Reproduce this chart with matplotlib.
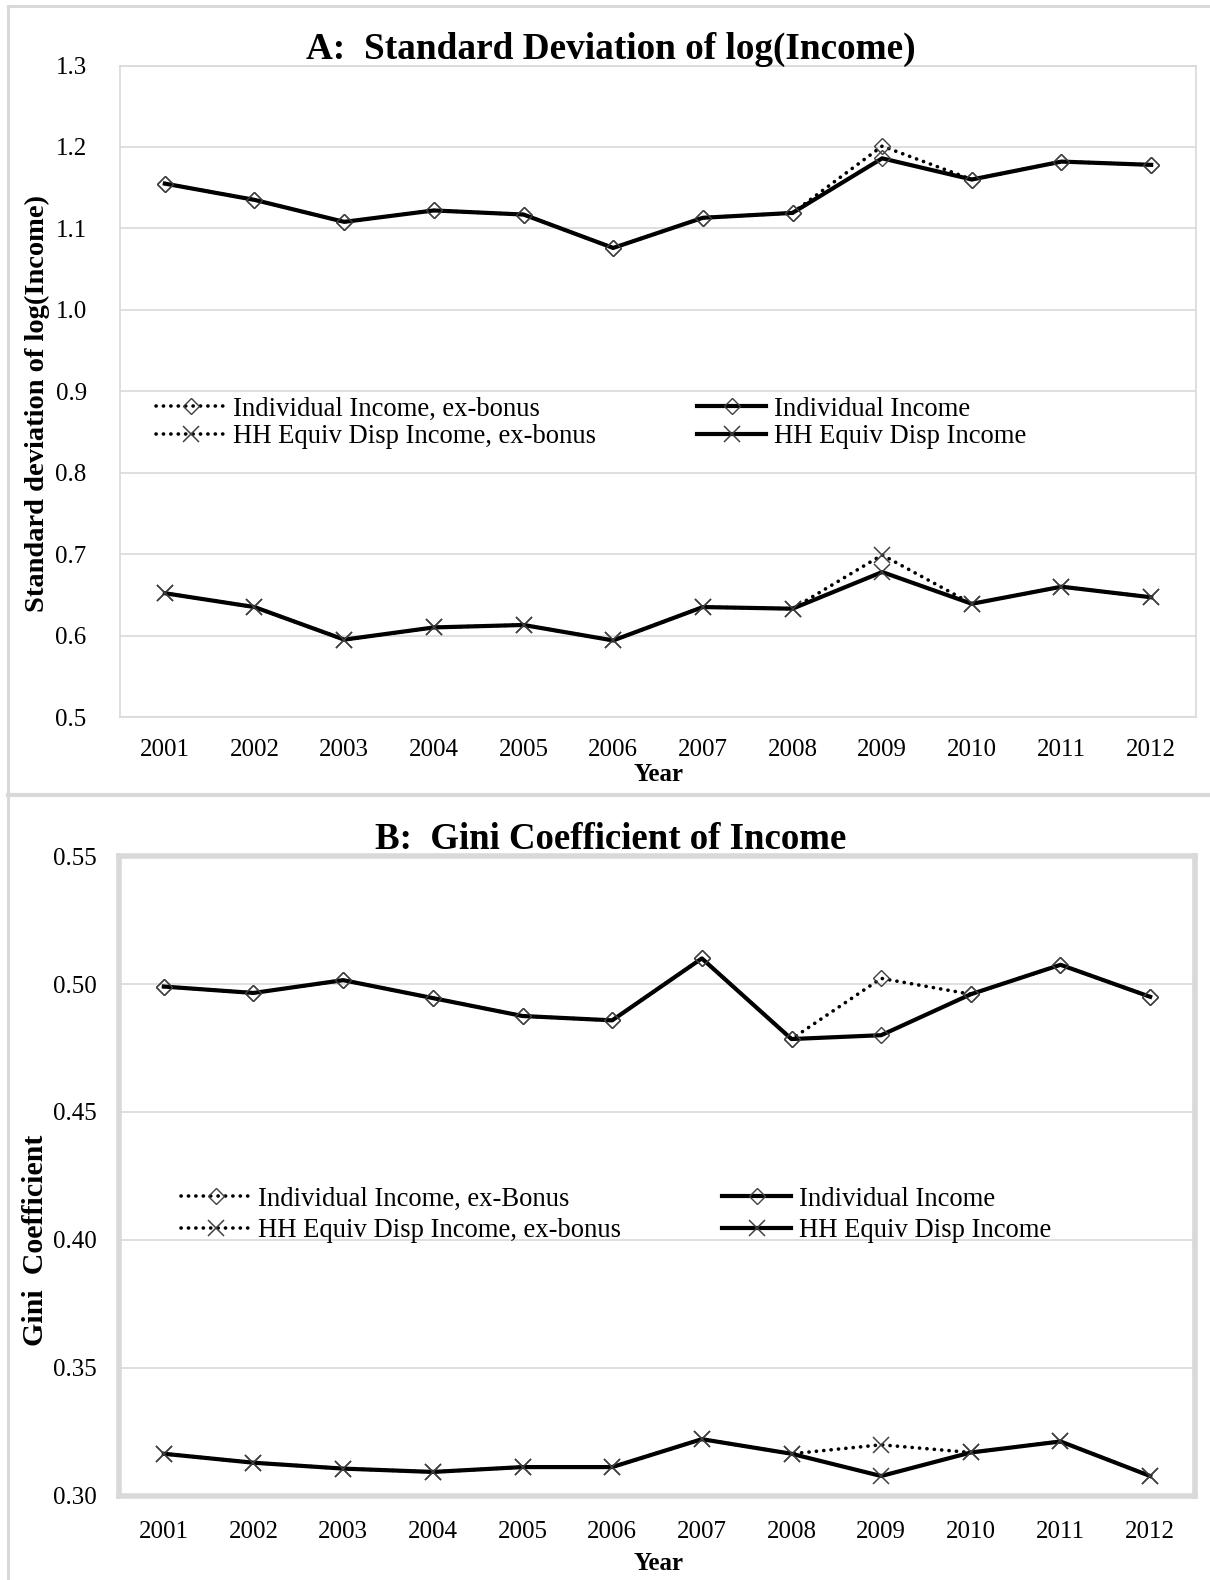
import matplotlib
matplotlib.use("Agg")
import matplotlib.pyplot as plt
from matplotlib.lines import Line2D

plt.rcParams['font.family'] = ['Liberation Serif', 'DejaVu Serif']

years = ["2001", "2002", "2003", "2004", "2005", "2006", "2007", "2008", "2009", "2010", "2011", "2012"]

# Panel A: standard deviation of log(income)
sd_ind = [1.155, 1.135, 1.108, 1.122, 1.117, 1.076, 1.113, 1.119, 1.186, 1.160, 1.182, 1.178]
sd_ind_exbonus = [1.155, 1.135, 1.108, 1.122, 1.117, 1.076, 1.113, 1.119, 1.201, 1.160, 1.182, 1.178]
sd_hh = [0.652, 0.635, 0.595, 0.610, 0.613, 0.594, 0.635, 0.633, 0.678, 0.639, 0.660, 0.647]
sd_hh_exbonus = [0.652, 0.635, 0.595, 0.610, 0.613, 0.594, 0.635, 0.633, 0.699, 0.639, 0.660, 0.647]

# Panel B: Gini coefficient
gini_ind = [0.499, 0.4965, 0.5015, 0.4945, 0.4875, 0.4858, 0.510, 0.4785, 0.480, 0.496, 0.5075, 0.495]
gini_ind_exbonus = [0.499, 0.4965, 0.5015, 0.4945, 0.4875, 0.4858, 0.510, 0.4785, 0.5022, 0.496, 0.5075, 0.495]
gini_hh = [0.3165, 0.313, 0.3107, 0.3094, 0.3113, 0.3113, 0.3222, 0.3165, 0.3078, 0.3170, 0.3213, 0.3078]
gini_hh_exbonus = [0.3165, 0.313, 0.3107, 0.3094, 0.3113, 0.3113, 0.3222, 0.3165, 0.3200, 0.3170, 0.3213, 0.3078]

W, H = 1210, 1580
fig = plt.figure(figsize=(W / 100, H / 100), dpi=100)
GRAY = '#d9d9d9'
MK = '#404040'

# outer document frame
fig.add_artist(Line2D([8 / W, 8 / W], [0, 1 - 6 / H], color=GRAY, lw=2.2, transform=fig.transFigure))
fig.add_artist(Line2D([8 / W, 1], [1 - 6 / H, 1 - 6 / H], color=GRAY, lw=2.2, transform=fig.transFigure))
fig.add_artist(Line2D([8 / W, 1], [1 - 795 / H, 1 - 795 / H], color=GRAY, lw=3, transform=fig.transFigure))

x = list(range(len(years)))


def ax_rect(l, r, t, b):
    return [l / W, 1 - b / H, (r - l) / W, (b - t) / H]


def style(ax, spine_w):
    for s in ax.spines.values():
        s.set_color(GRAY)
        s.set_linewidth(spine_w)
    ax.tick_params(axis='both', length=0, labelsize=18)
    ax.grid(axis='y', color=GRAY, lw=1.2)
    ax.set_axisbelow(True)
    ax.set_xlim(-0.5, len(years) - 0.5)
    ax.set_xticks(x)
    ax.set_xticklabels(years)


def draw(ax, ind, ind_ex, hh, hh_ex):
    dot = dict(color='black', lw=2.6, ls=(0, (0.05, 2.0)), dash_capstyle='round')
    sol = dict(color='black', lw=3.0)
    dia = dict(marker='D', ms=8, mfc='none', mec=MK, mew=1.0)
    crs = dict(marker='x', ms=12, mec=MK, mew=1.1)
    h1, = ax.plot(x, ind_ex, **dot, **dia)
    h2, = ax.plot(x, hh_ex, **dot, **crs)
    h3, = ax.plot(x, ind, **sol, **dia)
    h4, = ax.plot(x, hh, **sol, **crs)
    return h1, h2, h3, h4


# ---------- Panel A ----------
axA = fig.add_axes(ax_rect(120, 1196, 65.5, 717))
style(axA, 1.2)
axA.set_ylim(0.5, 1.3)
axA.set_yticks([0.5, 0.6, 0.7, 0.8, 0.9, 1.0, 1.1, 1.2, 1.3])
axA.set_yticklabels(["0.5", "0.6", "0.7", "0.8", "0.9", "1.0", "1.1", "1.2", "1.3"])
axA.tick_params(axis='y', pad=24)
axA.tick_params(axis='x', pad=16)
hA = draw(axA, sd_ind, sd_ind_exbonus, sd_hh, sd_hh_exbonus)
fig.text(611 / W, 1 - 49 / H, "A:  Standard Deviation of log(Income)", ha='center', va='center',
         fontsize=26.8, fontweight='bold')
fig.text(37 / W, 1 - 404 / H, "Standard deviation of log(Income)", rotation=90, ha='center', va='center',
         fontsize=20.5, fontweight='bold')
fig.text(658 / W, 1 - 775 / H, "Year", ha='center', va='center', fontsize=18, fontweight='bold')

legkw = dict(frameon=False, fontsize=19.2, handlelength=2.6, handletextpad=0.3, borderpad=0,
             borderaxespad=0, loc='center left', bbox_transform=fig.transFigure, numpoints=1)
lA1 = axA.legend([hA[0], hA[1]], ["Individual Income, ex-bonus", "HH Equiv Disp Income, ex-bonus"],
                 bbox_to_anchor=(156 / W, 1 - 423 / H), labelspacing=0.1, **legkw)
axA.add_artist(lA1)
axA.legend([hA[2], hA[3]], ["Individual Income", "HH Equiv Disp Income"],
           bbox_to_anchor=(697 / W, 1 - 423 / H), labelspacing=0.1, **legkw)

# ---------- Panel B ----------
axB = fig.add_axes(ax_rect(119, 1195, 856, 1496))
style(axB, 4)
axB.set_ylim(0.30, 0.55)
axB.set_yticks([0.30, 0.35, 0.40, 0.45, 0.50, 0.55])
axB.set_yticklabels(["0.30", "0.35", "0.40", "0.45", "0.50", "0.55"])
axB.tick_params(axis='y', pad=16)
axB.tick_params(axis='x', pad=18)
hB = draw(axB, gini_ind, gini_ind_exbonus, gini_hh, gini_hh_exbonus)
fig.text(611 / W, 1 - 839 / H, "B:  Gini Coefficient of Income", ha='center', va='center',
         fontsize=26.6, fontweight='bold')
fig.text(36 / W, 1 - 1240 / H, "Gini  Coefficient", rotation=90, ha='center', va='center',
         fontsize=21.5, fontweight='bold')
fig.text(658 / W, 1 - 1564 / H, "Year", ha='center', va='center', fontsize=18, fontweight='bold')

lB1 = axB.legend([hB[0], hB[1]], ["Individual Income, ex-Bonus", "HH Equiv Disp Income, ex-bonus"],
                 bbox_to_anchor=(181 / W, 1 - 1215 / H), labelspacing=0.25, **legkw)
axB.add_artist(lB1)
axB.legend([hB[2], hB[3]], ["Individual Income", "HH Equiv Disp Income"],
           bbox_to_anchor=(722 / W, 1 - 1215 / H), labelspacing=0.25, **legkw)

fig.savefig("out.png", dpi=100)
